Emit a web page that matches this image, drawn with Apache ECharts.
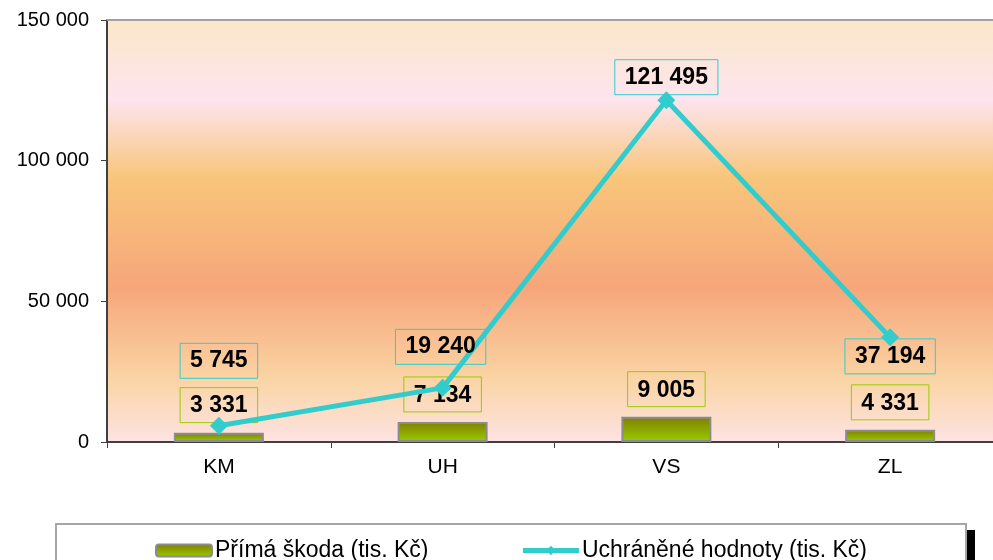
<!DOCTYPE html>
<html lang="cs">
<head>
  <meta charset="UTF-8">
  <title>Graf</title>
  <style>
    html, body { margin: 0; padding: 0; background: #fff; }
    #main { width: 993px; height: 560px; }
  </style>
</head>
<body>
  <div id="main"></div>
  <script src="https://cdn.jsdelivr.net/npm/echarts@6/dist/echarts.min.js"></script>
  <script>
    // data
    var categories = ['KM', 'UH', 'VS', 'ZL'];
    var primaSkoda = [3331, 7134, 9005, 4331];        // bars
    var uchraneneHodnoty = [5745, 19240, 121495, 37194]; // line
    var seriesNames = ['Přímá škoda (tis. Kč)', 'Uchráněné hodnoty (tis. Kč)'];

    // label offsets for line labels (hand placed in the original)
    var lineLabelShift = [[0, -65], [-2, -41], [0, -23], [0, 19]];

    function fmt(v) {
      return String(v).replace(/\B(?=(\d{3})+(?!\d))/g, ' ');
    }

    var font = 'Liberation Sans, Arial, sans-serif';

    var labelBase = {
      show: true,
      color: '#000',
      fontFamily: font,
      fontSize: 23,
      fontWeight: 'bold',
      padding: [7, 10, 5, 10],
      borderWidth: 1,
      formatter: function (p) { return fmt(p.value); }
    };

    var lineData = uchraneneHodnoty.map(function (v, i) {
      return { value: v, label: { offset: lineLabelShift[i] } };
    });

    var myChart = echarts.init(document.getElementById('main'));
    myChart.setOption({
      animation: false,
      grid: {
        left: 107, top: 20, width: 895, bottom: 118,
        outerBoundsMode: 'none',
        show: true,
        borderWidth: 0,
        backgroundColor: new echarts.graphic.LinearGradient(0, 0, 0, 1, [
          { offset: 0, color: '#fbe8c8' },
          { offset: 0.19, color: '#fde4ee' },
          { offset: 0.375, color: '#f8c57a' },
          { offset: 0.635, color: '#f6a67a' },
          { offset: 0.85, color: '#fad4a4' },
          { offset: 1, color: '#fde3e3' }
        ])
      },
      graphic: [{
        type: 'rect',
        shape: { x: 66, y: 530, width: 909, height: 60 },
        style: { fill: '#000' }
      }, {
        type: 'rect',
        shape: { x: 56, y: 524, width: 910, height: 60 },
        style: { fill: '#fff', stroke: '#a6a6a6', lineWidth: 2 }
      }],
      legend: {
        left: 150, top: 534,
        itemWidth: 56, itemHeight: 12, itemGap: 92,
        lineStyle: { width: 5 },
        textStyle: { fontFamily: font, fontSize: 23, color: '#000', padding: [0, 0, 0, -2] },
        data: seriesNames
      },
      xAxis: [{
        type: 'category',
        data: categories,
        axisLine: { lineStyle: { color: '#404040', width: 2 } },
        axisTick: { show: true, inside: false, length: 6, lineStyle: { color: '#404040' } },
        axisLabel: { color: '#000', fontFamily: font, fontSize: 21, margin: 15 }
      }, {
        type: 'category',
        position: 'top',
        data: categories,
        axisLine: { lineStyle: { color: '#a0a0a0', width: 2 } },
        axisTick: { show: false },
        axisLabel: { show: false }
      }],
      yAxis: {
        type: 'value',
        min: 0, max: 150000, interval: 50000,
        axisLine: { show: true, lineStyle: { color: '#404040', width: 2 } },
        axisTick: { show: true, length: 6, lineStyle: { color: '#404040' } },
        splitLine: { show: false },
        axisLabel: {
          color: '#000', fontFamily: font, fontSize: 20, margin: 18,
          formatter: function (v) { return fmt(v); }
        }
      },
      series: [{
        name: seriesNames[0],
        type: 'bar',
        data: primaSkoda,
        barWidth: 90,
        itemStyle: {
          color: new echarts.graphic.LinearGradient(0, 0, 0, 1, [
            { offset: 0, color: '#7f7f00' },
            { offset: 1, color: '#99cc00' }
          ]),
          borderColor: '#8c8c8c',
          borderWidth: 2
        },
        label: Object.assign({}, labelBase, {
          position: 'top', distance: 10, borderColor: '#99cc00'
        })
      }, {
        name: seriesNames[1],
        type: 'line',
        data: lineData,
        symbol: 'diamond',
        symbolSize: 18,
        lineStyle: { color: '#33cccc', width: 5 },
        itemStyle: { color: '#33cccc' },
        z: 3,
        label: Object.assign({}, labelBase, {
          position: 'inside', borderColor: '#33cccc'
        })
      }]
    });
  </script>
</body>
</html>
